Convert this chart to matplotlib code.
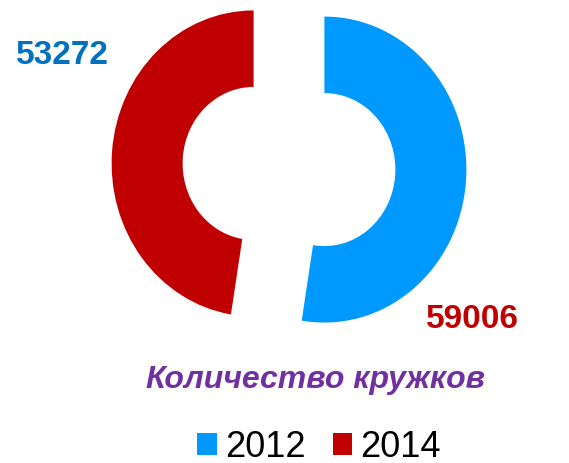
import matplotlib.pyplot as plt

years = ['2012', '2014']
values = [59006, 53272]
colors = ['#0099FF', '#C00000']
label_colors = ['#C00000', '#0070C0']
title = 'Количество кружков'

plt.rcParams['font.family'] = ['Liberation Sans', 'DejaVu Sans']

fig = plt.figure(figsize=(5.69, 4.64), dpi=100)
ax = fig.add_axes([0, 0, 1, 1])

# donut, blue starts at 12 o'clock and runs clockwise
wedges, _ = ax.pie(values, colors=colors, startangle=90, counterclock=False,
                   explode=[0.25, 0.25], radius=1.0,
                   wedgeprops=dict(width=0.5, edgecolor='none'))
ax.set_aspect('auto')
ax.set_xlim(-289 / 142, 280 / 142)
ax.set_ylim(-296.5 / 153, 167.5 / 153)
ax.axis('off')

# value labels (coloured the other way round, as in the original)
fig.text(62 / 569, 1 - 56 / 464, f'{values[1]}', color=label_colors[1],
         fontsize=24, fontweight='bold', ha='center', va='center')
fig.text(472 / 569, 1 - 320 / 464, f'{values[0]}', color=label_colors[0],
         fontsize=24, fontweight='bold', ha='center', va='center')

fig.text(315 / 569, 1 - 388 / 464, title, color='#7030A0', fontsize=23,
         fontweight='bold', fontstyle='italic', ha='center', va='baseline')

leg = fig.legend(wedges, years, loc='center', bbox_to_anchor=(319 / 569, 1 - 448 / 464),
                 ncol=2, frameon=False, fontsize=26, handlelength=0.55,
                 handleheight=0.55, handletextpad=0.22, columnspacing=0.75,
                 borderpad=0, borderaxespad=0)

fig.savefig('out.png', dpi=100)
